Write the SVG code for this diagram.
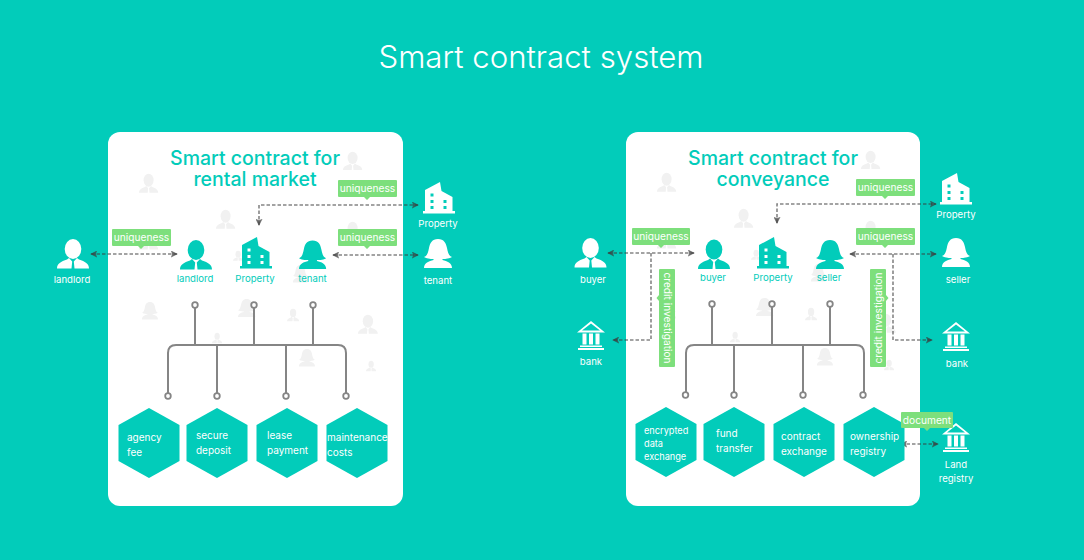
<svg xmlns="http://www.w3.org/2000/svg" xmlns:xlink="http://www.w3.org/1999/xlink" width="1084" height="560" viewBox="0 0 1084 560">
<style>
text{font-family:"Inter","Liberation Sans",sans-serif}
.w{fill:#fff}.t{fill:#02ccba}
.lab{font-size:9.6px;text-anchor:middle}
.hx{font-size:10px;fill:#fff}
.hs{font-size:9.2px;fill:#fff}
.tag{font-size:10.2px;fill:#fff;text-anchor:middle}
.ptitle{font-size:19.5px;font-weight:500;fill:#02ccba;text-anchor:middle}
.tree{fill:none;stroke:#858585;stroke-width:2}
.dot{fill:#fff;stroke:#858585;stroke-width:1.8}
.dash{fill:none;stroke:#3c3c3c;stroke-opacity:.62;stroke-width:1.6;stroke-dasharray:3.500 2}
.g{fill:#f1f1f1}
.tg{fill:#7ddf7c}
</style>
<defs>
<marker id="a" viewBox="0 0 8 8" refX="7" refY="4" markerWidth="7" markerHeight="7" markerUnits="userSpaceOnUse" orient="auto-start-reverse"><path d="M0 0L8 4L0 8L1.500 4Z" fill="#3c3c3c" fill-opacity=".72"/></marker>
<g id="man"><ellipse cx="16" cy="9.500" rx="8.300" ry="10"/><path d="M0 29C0 24 4 22 10 20L12 18.500L15.200 22L14.500 29ZM32 29C32 24 28 22 22 20L20 18.500L16.800 22L17.500 29Z"/></g>
<g id="woman"><path d="M14 0C20 0 22 4 23 9C24 14 25 17 28 18C24 20 20 20 18.500 20L18.500 21C23 22 28 24 28 29L0 29C0 24 5 22 9.500 21L9.500 20C8 20 4 20 0 18C3 17 4 14 5 9C6 4 8 0 14 0Z"/></g>
<g id="bld"><path fill-rule="evenodd" d="M2 29V8L17 0L18.500 9L29.500 15V29H32V31.500H0V29ZM7.500 11.500h3v3h-3ZM7.500 18h3v3h-3ZM7.500 24h3v3h-3ZM20.500 18h3v3h-3ZM20.500 24h3v3h-3Z"/></g>
<g id="bank"><path fill-rule="evenodd" d="M14 0L28 11.500H0ZM14 2.500L5 9.500H23Z"/><path d="M5.500 12.500h4v11h-4ZM12 12.500h4v11h-4ZM18.500 12.500h4v11h-4ZM3 24.500h22v1.500H3ZM1 27h26v2H1Z"/></g>
<g id="ghosts" class="g">
<use xlink:href="#man" href="#man" transform="translate(139 174) scale(.6 .65)"/>
<use xlink:href="#man" href="#man" transform="translate(343 152) scale(.6 .62)"/>
<use xlink:href="#man" href="#man" transform="translate(216 210) scale(.6 .65)"/>
<use xlink:href="#man" href="#man" transform="translate(343 222) scale(.6 .65)"/>
<use xlink:href="#man" href="#man" transform="translate(139 232) scale(.6 .6)"/>
<use xlink:href="#man" href="#man" transform="translate(233 251) scale(.32 .34)"/>
<use xlink:href="#woman" href="#woman" transform="translate(293 265) scale(.52 .6)"/>
<use xlink:href="#woman" href="#woman" transform="translate(142 302) scale(.57 .6)"/>
<use xlink:href="#woman" href="#woman" transform="translate(238 299) scale(.62 .62)"/>
<use xlink:href="#man" href="#man" transform="translate(287 309) scale(.38 .42)"/>
<use xlink:href="#man" href="#man" transform="translate(358 315) scale(.62 .65)"/>
<use xlink:href="#man" href="#man" transform="translate(212 333) scale(.32 .35)"/>
<use xlink:href="#woman" href="#woman" transform="translate(299 349) scale(.57 .6)"/>
<use xlink:href="#man" href="#man" transform="translate(366 361) scale(.32 .35)"/>
</g>
</defs>
<rect width="1084" height="560" fill="#02ccba"/>
<text id="title" x="541" y="68" font-size="31.200" font-weight="300" fill="#fff" text-anchor="middle">Smart contract system</text>

<g id="panel-rental"><rect x="108" y="132" width="295" height="374" rx="12" fill="#fff"/><use href="#ghosts"/>
<text class="ptitle" x="255" y="165">Smart contract for</text><text class="ptitle" x="255" y="186">rental market</text></g>
<g id="panel-conveyance"><rect x="626" y="132" width="294" height="374" rx="12" fill="#fff"/><use href="#ghosts" transform="translate(518 -1)"/>
<text class="ptitle" x="773" y="165">Smart contract for</text><text class="ptitle" x="773" y="186">conveyance</text></g>

<g id="connectors">
<path class="dash" d="M91 254H177" marker-start="url(#a)" marker-end="url(#a)"/>
<path class="dash" d="M333 255H418" marker-start="url(#a)" marker-end="url(#a)"/>
<path class="dash" d="M259 225V205H418" marker-start="url(#a)" marker-end="url(#a)"/>
<path class="dash" d="M608 253H694" marker-start="url(#a)" marker-end="url(#a)"/>
<path class="dash" d="M651 253V340H613" marker-end="url(#a)"/>
<path class="dash" d="M850 254H936" marker-start="url(#a)" marker-end="url(#a)"/>
<path class="dash" d="M893 254V340H932" marker-end="url(#a)"/>
<path class="dash" d="M777 223V204H936" marker-start="url(#a)" marker-end="url(#a)"/>
<path class="dash" d="M901 444H938" marker-start="url(#a)" marker-end="url(#a)"/>
<path class="tree" d="M168 393V353Q168 345 176 345H338Q346 345 346 353V393M195 308V345M254 308V345M313 308V345M217 345V393M286 345V393"/>
<circle class="dot" cx="195" cy="305" r="2.800"/><circle class="dot" cx="254" cy="305" r="2.800"/><circle class="dot" cx="313" cy="305" r="2.800"/>
<circle class="dot" cx="168" cy="396" r="2.800"/><circle class="dot" cx="217" cy="396" r="2.800"/><circle class="dot" cx="286" cy="396" r="2.800"/><circle class="dot" cx="346" cy="396" r="2.800"/>
<path class="tree" d="M686 392V353Q686 345 694 345H856Q864 345 864 353V392M712 307V345M772 307V345M830 307V345M734 345V392M803 345V392"/>
<circle class="dot" cx="712" cy="304" r="2.800"/><circle class="dot" cx="772" cy="304" r="2.800"/><circle class="dot" cx="830" cy="304" r="2.800"/>
<circle class="dot" cx="685.500" cy="395" r="2.800"/><circle class="dot" cx="734" cy="395" r="2.800"/><circle class="dot" cx="803" cy="395" r="2.800"/><circle class="dot" cx="863" cy="395" r="2.800"/>
</g>

<g id="n-landlord-out" class="w"><use href="#man" transform="translate(57 239.500)"/><text class="lab" x="72" y="283">landlord</text></g>
<g id="n-landlord-in" class="t"><use href="#man" transform="translate(180 240.500)"/><text class="lab" x="195" y="282">landlord</text></g>
<g id="n-property-in-l" class="t"><use href="#bld" transform="translate(240 237)"/><text class="lab" x="255" y="282">Property</text></g>
<g id="n-tenant-in" class="t"><use href="#woman" transform="translate(299 240.500) scale(.97 .98)"/><text class="lab" x="312.500" y="282">tenant</text></g>
<g id="n-property-out-l" class="w"><use href="#bld" transform="translate(423 182)"/><text class="lab" x="438" y="227">Property</text></g>
<g id="n-tenant-out" class="w"><use href="#woman" transform="translate(424 239)"/><text class="lab" x="438" y="284">tenant</text></g>

<g id="n-buyer-out" class="w"><use href="#man" transform="translate(574.500 238.500)"/><text class="lab" x="593" y="283">buyer</text></g>
<g id="n-buyer-in" class="t"><use href="#man" transform="translate(698 240)"/><text class="lab" x="713" y="281">buyer</text></g>
<g id="n-property-in-r" class="t"><use href="#bld" transform="translate(757 237)"/><text class="lab" x="773" y="281">Property</text></g>
<g id="n-seller-in" class="t"><use href="#woman" transform="translate(816 240)"/><text class="lab" x="829" y="281">seller</text></g>
<g id="n-property-out-r" class="w"><use href="#bld" transform="translate(940 173)"/><text class="lab" x="956" y="218">Property</text></g>
<g id="n-seller-out" class="w"><use href="#woman" transform="translate(942 238)"/><text class="lab" x="958" y="283">seller</text></g>
<g id="n-bank-l" class="w"><use href="#bank" transform="translate(577 321)"/><text class="lab" x="591" y="365">bank</text></g>
<g id="n-bank-r" class="w"><use href="#bank" transform="translate(942 322)"/><text class="lab" x="957" y="367">bank</text></g>
<g id="n-land" class="w"><use href="#bank" transform="translate(942 423)"/><text class="lab" x="956" y="468">Land</text><text class="lab" x="956" y="482">registry</text></g>

<g id="h-agency"><path class="t" d="M149 408L179.500 425V461L149 478L118.500 461V425Z"/><text class="hx" x="127" y="441">agency</text><text class="hx" x="127" y="456">fee</text></g>
<g id="h-deposit"><path class="t" d="M217 408L247.500 425V461L217 478L186.500 461V425Z"/><text class="hx" x="196" y="439">secure</text><text class="hx" x="196" y="454">deposit</text></g>
<g id="h-lease"><path class="t" d="M287 408L317.500 425V461L287 478L256.500 461V425Z"/><text class="hx" x="267" y="439">lease</text><text class="hx" x="267" y="454">payment</text></g>
<g id="h-maint"><path class="t" d="M357 408L387.500 425V461L357 478L326.500 461V425Z"/><text class="hx" x="327" y="441">maintenance</text><text class="hx" x="327" y="456">costs</text></g>
<g id="h-encrypted"><path class="t" d="M666 407L696.500 424V460L666 477L635.500 460V424Z"/><text class="hs" x="644" y="434">encrypted</text><text class="hs" x="644" y="447">data</text><text class="hs" x="644" y="460">exchange</text></g>
<g id="h-fund"><path class="t" d="M734 407L764.500 424V460L734 477L703.500 460V424Z"/><text class="hx" x="716" y="437">fund</text><text class="hx" x="716" y="452">transfer</text></g>
<g id="h-contract"><path class="t" d="M804 407L834.500 424V460L804 477L773.500 460V424Z"/><text class="hx" x="781" y="440">contract</text><text class="hx" x="781" y="455">exchange</text></g>
<g id="h-ownership"><path class="t" d="M874 407L904.500 424V460L874 477L843.500 460V424Z"/><text class="hx" x="850" y="440">ownership</text><text class="hx" x="850" y="455">registry</text></g>

<g id="tag-1"><path class="tg" d="M113 229H170a1 1 0 0 1 1 1V245a1 1 0 0 1-1 1H144L141 249L138 246H113a1 1 0 0 1-1-1V230a1 1 0 0 1 1-1Z"/><text class="tag" x="141.500" y="241">uniqueness</text></g>
<g id="tag-2"><path class="tg" d="M339 180H396a1 1 0 0 1 1 1V196a1 1 0 0 1-1 1H370L367 200L364 197H339a1 1 0 0 1-1-1V181a1 1 0 0 1 1-1Z"/><text class="tag" x="367.500" y="192">uniqueness</text></g>
<g id="tag-3"><path class="tg" d="M339 229H396a1 1 0 0 1 1 1V245a1 1 0 0 1-1 1H370L367 249L364 246H339a1 1 0 0 1-1-1V230a1 1 0 0 1 1-1Z"/><text class="tag" x="367.500" y="241">uniqueness</text></g>
<g id="tag-4"><path class="tg" d="M633 228H689a1 1 0 0 1 1 1V244a1 1 0 0 1-1 1H664L661 248L658 245H633a1 1 0 0 1-1-1V229a1 1 0 0 1 1-1Z"/><text class="tag" x="661" y="240">uniqueness</text></g>
<g id="tag-5"><path class="tg" d="M857 179H914a1 1 0 0 1 1 1V195a1 1 0 0 1-1 1H888L885 199L882 196H857a1 1 0 0 1-1-1V180a1 1 0 0 1 1-1Z"/><text class="tag" x="885.500" y="191">uniqueness</text></g>
<g id="tag-6"><path class="tg" d="M857 228H914a1 1 0 0 1 1 1V244a1 1 0 0 1-1 1H888L885 248L882 245H857a1 1 0 0 1-1-1V229a1 1 0 0 1 1-1Z"/><text class="tag" x="885.500" y="240">uniqueness</text></g>
<g id="tag-7"><path class="tg" d="M660 269H674a1 1 0 0 1 1 1V366a1 1 0 0 1-1 1H660a1 1 0 0 1-1-1V301L656.500 298L659 295V270a1 1 0 0 1 1-1Z"/><text class="tag" transform="translate(663.500 318) rotate(90)">credit investigation</text></g>
<g id="tag-8"><path class="tg" d="M871 269H885a1 1 0 0 1 1 1V295L888.500 298L886 301V366a1 1 0 0 1-1 1H871a1 1 0 0 1-1-1V270a1 1 0 0 1 1-1Z"/><text class="tag" transform="translate(881.500 318) rotate(-90)">credit investigation</text></g>
<g id="tag-9"><path class="tg" d="M902 412H952a1 1 0 0 1 1 1V427a1 1 0 0 1-1 1H930L927 431L924 428H902a1 1 0 0 1-1-1V413a1 1 0 0 1 1-1Z"/><text class="tag" x="927" y="424">document</text></g>
</svg>
